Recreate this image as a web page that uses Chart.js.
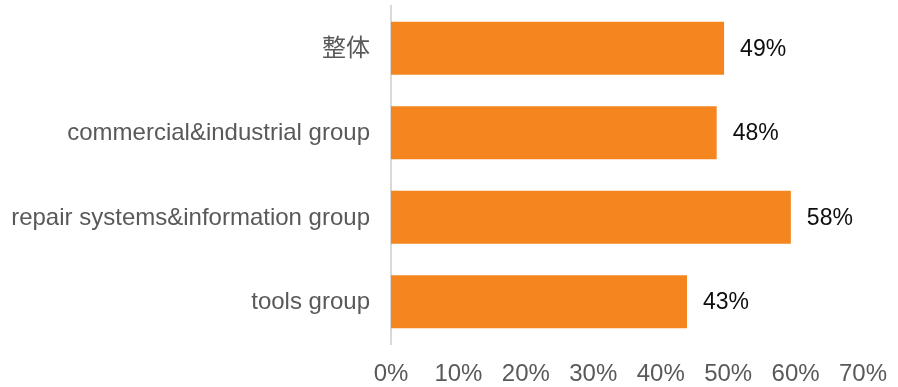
<!DOCTYPE html>
<html>
<head>
<meta charset="utf-8">
<script src="https://cdn.jsdelivr.net/npm/chart.js@4"></script>
<style>
html,body{margin:0;padding:0;background:#fff;}
#wrap{width:898px;height:387px;position:relative;}
</style>
</head>
<body>
<div id="wrap"><canvas id="c" width="898" height="387"></canvas></div>
<script>
const categories = ["整体", "commercial&industrial group", "repair systems&information group", "tools group"];
const values = [49.4, 48.3, 59.3, 43.9];
const valueLabels = ["49%", "48%", "58%", "43%"];
const tickLabels = ["0%", "10%", "20%", "30%", "40%", "50%", "60%", "70%"];

const FONT = "'Liberation Sans', Arial, 'Noto Sans CJK SC', sans-serif";

const valueLabelPlugin = {
  id: 'valueLabels',
  afterDatasetsDraw(chart) {
    const ctx = chart.ctx;
    const meta = chart.getDatasetMeta(0);
    ctx.save();
    ctx.font = "23px " + FONT;
    ctx.fillStyle = "#0d0d0d";
    ctx.textAlign = "left";
    ctx.textBaseline = "middle";
    meta.data.forEach((bar, i) => {
      ctx.fillText(valueLabels[i], bar.x + 16, bar.y + 1);
    });
    ctx.restore();
  }
};

new Chart(document.getElementById('c'), {
  type: 'bar',
  data: {
    labels: categories,
    datasets: [{
      data: values,
      backgroundColor: '#F5851F',
      borderWidth: 0,
      categoryPercentage: 1.0,
      barPercentage: 0.627
    }]
  },
  options: {
    indexAxis: 'y',
    responsive: false,
    animation: false,
    devicePixelRatio: 1,
    layout: { padding: { top: 6, right: 35, bottom: 0, left: 0 } },
    plugins: { legend: { display: false }, tooltip: { enabled: false } },
    scales: {
      x: {
        min: 0, max: 70,
        grid: { display: false, drawTicks: false },
        border: { display: false },
        afterFit(scale) { scale.height = 43; scale.paddingLeft = 0; scale.paddingRight = 0; },
        ticks: {
          stepSize: 10,
          padding: 16,
          color: '#595959',
          font: { family: FONT, size: 24 },
          maxRotation: 0,
          callback: (v, i) => tickLabels[i]
        }
      },
      y: {
        grid: { display: false, drawTicks: false },
        border: { display: true, color: '#d9d9d9', width: 2 },
        afterFit(scale) { scale.width = 391; scale.paddingTop = 0; scale.paddingBottom = 0; },
        ticks: {
          padding: 21,
          labelOffset: 1,
          color: '#595959',
          font: { family: FONT, size: 24 }
        }
      }
    }
  },
  plugins: [valueLabelPlugin]
});
</script>
</body>
</html>
